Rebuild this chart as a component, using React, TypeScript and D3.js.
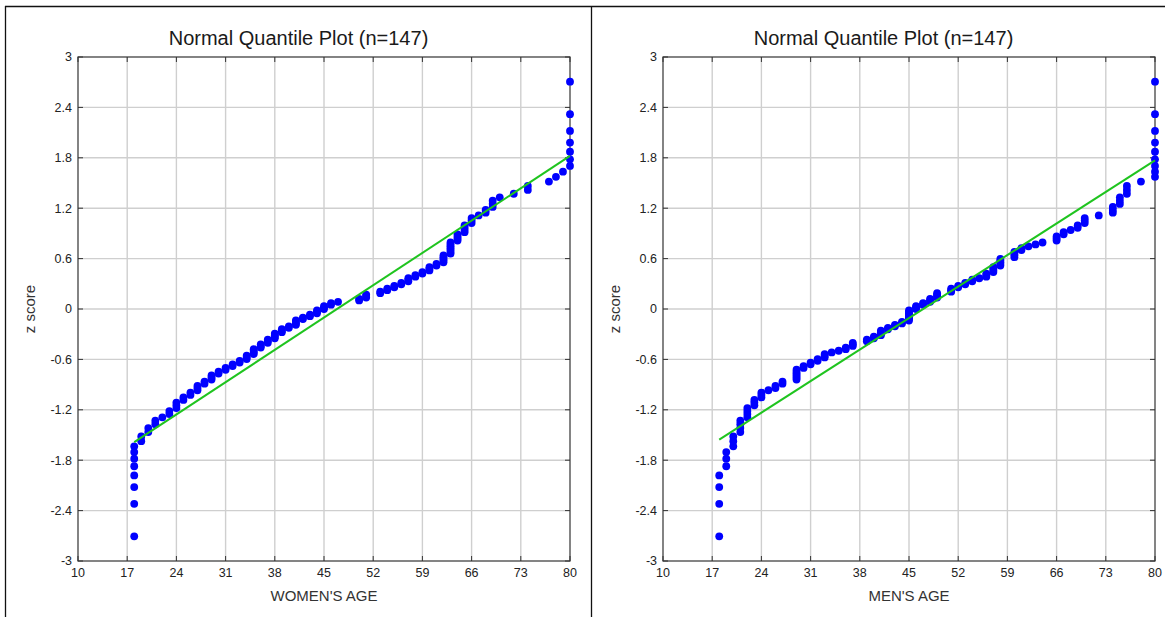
import React from 'react';
import * as d3 from 'd3';

// ages, with how many people share each age
const womenAges = [18, 19, 20, 21, 22, 23, 24, 25, 26, 27, 28, 29, 30, 31, 32, 33, 34, 35, 36, 37, 38, 39, 40, 41, 42, 43, 44, 45, 46, 47, 50, 51, 53, 54, 55, 56, 57, 58, 59, 60, 61, 62, 63, 64, 65, 66, 67, 68, 69, 70, 72, 74, 77, 78, 79, 80];
const womenCounts = [8, 2, 2, 2, 1, 2, 3, 2, 2, 3, 2, 3, 2, 2, 2, 2, 3, 4, 3, 3, 4, 3, 2, 4, 2, 2, 3, 3, 2, 1, 2, 3, 2, 2, 2, 2, 3, 2, 2, 3, 2, 5, 7, 4, 4, 3, 1, 2, 3, 1, 1, 2, 1, 1, 1, 7];

const menAges = [18, 19, 20, 21, 22, 23, 24, 25, 26, 27, 29, 30, 31, 32, 33, 34, 35, 36, 37, 39, 40, 41, 42, 43, 44, 45, 46, 47, 48, 49, 51, 52, 53, 54, 55, 56, 57, 58, 60, 61, 62, 63, 64, 66, 67, 68, 69, 70, 72, 74, 75, 76, 78, 80];
const menCounts = [4, 3, 3, 4, 4, 3, 3, 1, 2, 2, 6, 2, 2, 2, 3, 1, 1, 2, 3, 2, 2, 4, 2, 2, 2, 8, 3, 2, 3, 4, 3, 2, 2, 2, 1, 3, 4, 5, 4, 2, 1, 1, 1, 3, 2, 1, 2, 3, 1, 3, 3, 3, 1, 9];

const xTickValues = [10, 17, 24, 31, 38, 45, 52, 59, 66, 73, 80];
const yTickValues = [-3, -2.4, -1.8, -1.2, -0.6, 0, 0.6, 1.2, 1.8, 2.4, 3];

const font = '"Liberation Sans", Arial, sans-serif';

// inverse of the standard normal cdf (Acklam)
function qnorm(p: number) {
  const a = [-39.69683028665376, 220.9460984245205, -275.9285104469687, 138.357751867269, -30.66479806614716, 2.506628277459239];
  const b = [-54.47609879822406, 161.5858368580409, -155.6989798598866, 66.80131188771972, -13.28068155922803];
  const c = [-0.007784894002430293, -0.3223964580411365, -2.400758277161838, -2.549732539343734, 4.374664141464968, 2.938163982698783];
  const d = [0.007784695709041462, 0.3224671290700398, 2.445134137142996, 3.754408661907416];
  const plow = 0.02425;
  if (p < plow) {
    const q = Math.sqrt(-2 * Math.log(p));
    return (((((c[0] * q + c[1]) * q + c[2]) * q + c[3]) * q + c[4]) * q + c[5]) / ((((d[0] * q + d[1]) * q + d[2]) * q + d[3]) * q + 1);
  }
  if (p > 1 - plow) {
    const q = Math.sqrt(-2 * Math.log(1 - p));
    return -(((((c[0] * q + c[1]) * q + c[2]) * q + c[3]) * q + c[4]) * q + c[5]) / ((((d[0] * q + d[1]) * q + d[2]) * q + d[3]) * q + 1);
  }
  const q = p - 0.5;
  const r = q * q;
  return (((((a[0] * r + a[1]) * r + a[2]) * r + a[3]) * r + a[4]) * r + a[5]) * q / (((((b[0] * r + b[1]) * r + b[2]) * r + b[3]) * r + b[4]) * r + 1);
}

const Panel = ({ ox, ages, counts, xTitle }: { ox: number; ages: number[]; counts: number[]; xTitle: string }) => {
  const left = ox + 72, right = ox + 564, top = 57, bottom = 561;
  const x = d3.scaleLinear().domain([10, 80]).range([left, right]);
  const y = d3.scaleLinear().domain([-3, 3]).range([bottom, top]);

  const values: number[] = [];
  ages.forEach((a, i) => { for (let k = 0; k < counts[i]; k++) values.push(a); });
  values.sort(d3.ascending);
  const n = values.length;
  const points = values.map((v, i) => ({ v, z: qnorm((i + 0.5) / n) }));

  const mean = d3.mean(values) as number;
  const sd = d3.deviation(values) as number;
  const [lo, hi] = d3.extent(values) as [number, number];
  const fit = d3.line<number>().x(v => x(v)).y(v => y((v - mean) / sd));

  const tick = 5;
  return (
    <g>
      <text x={ox + 292.5} y={45} textAnchor="middle" fontSize={20} fill="#1a1a1a" fontFamily={font}>
        Normal Quantile Plot (n={n})
      </text>
      {xTickValues.slice(1, -1).map(t => (
        <line key={'gx' + t} x1={x(t)} x2={x(t)} y1={top} y2={bottom} stroke="#cfcfcf" strokeWidth={1.4} />
      ))}
      {yTickValues.slice(1, -1).map(t => (
        <line key={'gy' + t} x1={left} x2={right} y1={y(t)} y2={y(t)} stroke="#cfcfcf" strokeWidth={1.4} />
      ))}
      {xTickValues.map(t => (
        <g key={'tx' + t}>
          <line x1={x(t)} x2={x(t)} y1={bottom} y2={bottom - tick} stroke="#333" />
          <line x1={x(t)} x2={x(t)} y1={top} y2={top + tick} stroke="#333" />
          <text x={x(t)} y={577} textAnchor="middle" fontSize={12.5} fill="#222" fontFamily={font}>{t}</text>
        </g>
      ))}
      {yTickValues.map(t => (
        <g key={'ty' + t}>
          <line x1={left} x2={left + tick} y1={y(t)} y2={y(t)} stroke="#333" />
          <line x1={right} x2={right - tick} y1={y(t)} y2={y(t)} stroke="#333" />
          <text x={left - 6} y={y(t)} dy="0.35em" textAnchor="end" fontSize={12.5} fill="#222" fontFamily={font}>{String(t)}</text>
        </g>
      ))}
      <rect x={left} y={top} width={right - left} height={bottom - top} fill="none" stroke="#333" strokeWidth={1.2} />
      {points.map((p, i) => (
        <circle key={i} cx={x(p.v)} cy={y(p.z)} r={3.9} fill="#0000ff" />
      ))}
      <path d={fit([lo, hi]) as string} fill="none" stroke="#1fc41f" strokeWidth={2} />
      <text x={(left + right) / 2} y={601} textAnchor="middle" fontSize={15} fill="#333" fontFamily={font}>{xTitle}</text>
      <text transform={`translate(${ox + 29},${(top + bottom) / 2}) rotate(-90)`} textAnchor="middle" fontSize={15} fill="#333" fontFamily={font}>
        z score
      </text>
    </g>
  );
};

export default function App() {
  return (
    <div style={{ position: 'fixed', left: 0, top: 0 }}>
      <svg width={1165} height={617} style={{ display: 'block', background: '#fff' }}>
        <line x1={5} x2={1165} y1={6.5} y2={6.5} stroke="#111" strokeWidth={1.3} />
        <line x1={5.5} x2={5.5} y1={6} y2={617} stroke="#111" strokeWidth={1.3} />
        <line x1={591.5} x2={591.5} y1={6} y2={617} stroke="#111" strokeWidth={1.3} />
        <Panel ox={6} ages={womenAges} counts={womenCounts} xTitle="WOMEN'S AGE" />
        <Panel ox={591} ages={menAges} counts={menCounts} xTitle="MEN'S AGE" />
      </svg>
    </div>
  );
}
